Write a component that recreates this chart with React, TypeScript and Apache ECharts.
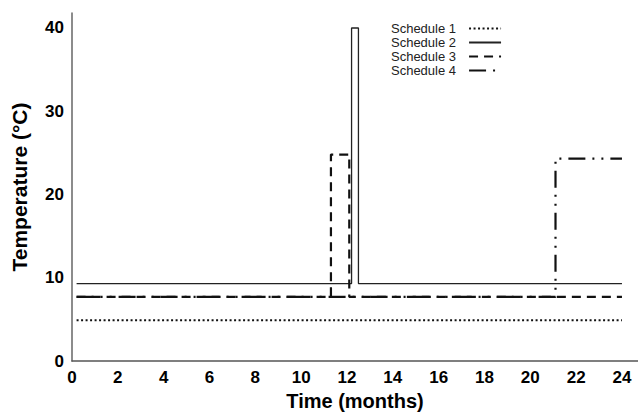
import React, { useEffect, useRef } from "react";
import * as echarts from "echarts";

// Month ticks and temperature ticks
const monthTicks = [0, 2, 4, 6, 8, 10, 12, 14, 16, 18, 20, 22, 24];
const tempTicks = [0, 10, 20, 30, 40];

const seriesNames = ["Schedule 1", "Schedule 2", "Schedule 3", "Schedule 4"];

// Schedule 1: constant low temperature
const s1Months = [0.2, 24];
const s1Temps = [4.9, 4.9];

// Schedule 2: constant with short 40 °C pulse at month 12
const s2Months = [0.2, 12.2, 12.2, 12.5, 12.5, 24];
const s2Temps = [9.3, 9.3, 40, 40, 9.3, 9.3];

// Schedule 3: pulse to ~25 °C between months 11 and 12
const s3Months = [0.2, 11.3, 11.3, 12.1, 12.1, 24];
const s3Temps = [7.7, 7.7, 24.8, 24.8, 7.7, 7.7];

// Schedule 4: step up to ~24 °C at month 21
const s4Months = [0.2, 21.1, 21.1, 24];
const s4Temps = [7.7, 7.7, 24.3, 24.3];

const pairs = (xs: number[], ys: number[]) => xs.map((x, i) => [x, ys[i]]);

const FONT = "'Liberation Sans', Arial, Helvetica, sans-serif";

export default function App() {
  const ref = useRef<HTMLDivElement>(null);

  useEffect(() => {
    if (!ref.current) return;
    const chart = echarts.init(ref.current, undefined, { renderer: "svg" });
    const lineBase = { type: "line", symbol: "none", showSymbol: false, z: 3 };
    chart.setOption({
      animation: false,
      backgroundColor: "#ffffff",
      textStyle: { fontFamily: FONT },
      grid: { left: 72, right: 0, top: 13, bottom: 52, containLabel: false },
      legend: {
        orient: "vertical",
        left: 391,
        top: 22,
        padding: 0,
        align: "right",
        itemWidth: 32,
        itemHeight: 14,
        itemGap: 1,
        data: seriesNames,
        itemStyle: { opacity: 0, borderWidth: 0 },
        textStyle: {
          fontFamily: FONT,
          fontSize: 13,
          color: "#222",
          padding: [0, 8, 0, 0],
        },
      },
      xAxis: {
        type: "value",
        min: 0,
        max: 24.7,
        name: "Time (months)",
        nameLocation: "middle",
        nameGap: 30,
        nameTextStyle: { fontFamily: FONT, fontSize: 20, fontWeight: "bold", color: "#000" },
        axisLine: { show: true, lineStyle: { color: "#555", width: 1.5 } },
        axisTick: { show: false },
        splitLine: { show: false },
        axisLabel: {
          customValues: monthTicks,
          margin: 8,
          fontFamily: FONT,
          fontSize: 17,
          fontWeight: "bold",
          color: "#000",
        },
      },
      yAxis: {
        type: "value",
        min: 0,
        max: 41.8,
        name: "Temperature (°C)",
        nameLocation: "middle",
        nameGap: 42,
        nameTextStyle: { fontFamily: FONT, fontSize: 21, fontWeight: "bold", color: "#000" },
        axisLine: { show: true, lineStyle: { color: "#666", width: 1.5 } },
        axisTick: { show: false },
        splitLine: { show: false },
        axisLabel: {
          customValues: tempTicks,
          margin: 8,
          fontFamily: FONT,
          fontSize: 17,
          fontWeight: "bold",
          color: "#000",
        },
      },
      series: [
        {
          ...lineBase,
          name: seriesNames[0],
          data: pairs(s1Months, s1Temps),
          lineStyle: { color: "#111", width: 2, type: [2, 2.5] },
          itemStyle: { color: "#111" },
        },
        {
          ...lineBase,
          name: seriesNames[1],
          data: pairs(s2Months, s2Temps),
          lineStyle: { color: "#222", width: 1.3, type: "solid" },
          itemStyle: { color: "#222" },
        },
        {
          ...lineBase,
          name: seriesNames[2],
          data: pairs(s3Months, s3Temps),
          lineStyle: { color: "#111", width: 2.2, type: [9, 6] },
          itemStyle: { color: "#111" },
        },
        {
          ...lineBase,
          name: seriesNames[3],
          data: pairs(s4Months, s4Temps),
          lineStyle: { color: "#111", width: 2.2, type: [17, 7, 2, 7, 2, 7] },
          itemStyle: { color: "#111" },
        },
      ],
    });
    return () => chart.dispose();
  }, []);

  return (
    <div
      ref={ref}
      style={{ position: "absolute", left: 0, top: 0, width: 638, height: 416 }}
    />
  );
}
